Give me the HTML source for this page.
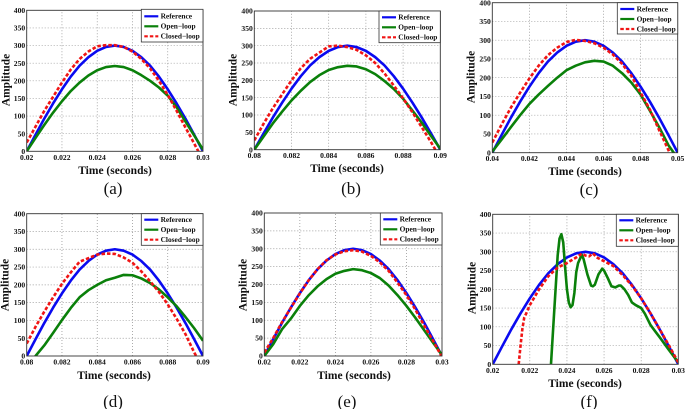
<!DOCTYPE html>
<html>
<head>
<meta charset="utf-8">
<title>Amplitude tracking charts</title>
<style>
html,body{margin:0;padding:0;background:#fff;width:685px;height:409px;overflow:hidden}
svg{display:block}
text{font-family:"Liberation Serif",serif;fill:#111}
.tick{font-size:7.6px;font-weight:bold}
.axis{font-size:11.5px;font-weight:bold}
.leg{font-size:7.4px;font-weight:bold}
.cap{font-size:17px}
</style>
</head>
<body>
<svg id="chart" xmlns="http://www.w3.org/2000/svg" width="685" height="409" viewBox="0 0 685 409"></svg>
<script>
// Shared values
const yTicks = [0, 50, 100, 150, 200, 250, 300, 350, 400];
const legendLabels = ['Reference', 'Open\u2212loop', 'Closed\u2212loop'];
const timeOffsets = [0, .0005, .001, .0015, .002, .0025, .003, .0035, .004, .0045, .005, .0055, .006, .0065, .007, .0075, .008, .0085, .009, .0095, .01];
const referenceValues = [0, 47, 93, 136, 176, 212, 243, 267, 285, 296, 300, 296, 285, 267, 243, 212, 176, 136, 93, 47, 0];

// Panel a
const aXTicks = ['0.02', '0.022', '0.024', '0.026', '0.028', '0.03'];
const aOpen = [0, 38, 75, 110, 142, 171, 195, 215, 230, 239, 242, 239, 230, 216, 200, 181, 158, 125, 85, 45, 5];
const aClosed = [25, 70, 115, 155, 195, 232, 262, 283, 298, 301, 301, 296, 283, 262, 235, 200, 160, 115, 68, 22, -25];
// Panel b
const bXTicks = ['0.08', '0.082', '0.084', '0.086', '0.088', '0.09'];
const bOpen = [0, 38, 76, 110, 142, 170, 195, 215, 230, 238, 242, 240, 232, 218, 198, 175, 147, 113, 78, 40, 3];
const bClosed = [27, 75, 120, 160, 200, 235, 262, 280, 298, 300, 296, 288, 272, 250, 220, 185, 148, 108, 65, 22, -25];
// Panel c
const cXTicks = ['0.04', '0.042', '0.044', '0.046', '0.048', '0.05'];
const cOpen = [3, 35, 68, 100, 130, 155, 178, 200, 220, 232, 241, 245, 243, 232, 212, 187, 155, 112, 68, 20, -15];
const cClosed = [27, 75, 120, 160, 198, 232, 260, 280, 295, 301, 298, 292, 280, 262, 237, 205, 160, 115, 60, 7, -50];
// Panel d
const dXTicks = ['0.08', '0.082', '0.084', '0.086', '0.088', '0.09'];
const dOpen = [-45, 0, 30, 65, 101, 135, 165, 185, 200, 213, 220, 228, 227, 218, 205, 187, 165, 140, 110, 78, 43];
const dClosed = [35, 82, 125, 165, 203, 235, 265, 275, 285, 288, 287, 277, 262, 238, 210, 180, 145, 105, 62, 10, -35];
// Panel e
const eXTicks = ['0.02', '0.022', '0.024', '0.026', '0.028', '0.03'];
const eOpen = [0, 33, 75, 105, 140, 170, 195, 215, 230, 238, 243, 240, 232, 218, 197, 170, 140, 107, 72, 37, 3];
const eClosed = [10, 50, 95, 135, 175, 212, 243, 268, 284, 293, 296, 292, 280, 262, 238, 205, 170, 130, 85, 42, -3];
// Panel f
const fXTicks = ['0.02', '0.022', '0.024', '0.026', '0.028', '0.03'];
const fOpenTimes = [.00314, .0033, .0035, .0036, .0037, .0038, .0039, .004, .0041, .0042, .0043, .0044, .0045, .0046, .0048, .0049, .0051, .0053, .0054, .0055, .0057, .0059, .006, .0062, .0064, .0066, .0068, .0069, .0071, .0073, .0075, .0077, .008, .0082, .0085, .0088, .009, .0095, .01];
const fOpen = [0, 130, 290, 335, 347, 325, 260, 200, 165, 152, 158, 190, 245, 270, 292, 280, 240, 210, 208, 212, 240, 255, 250, 230, 208, 205, 210, 210, 200, 185, 165, 158, 150, 135, 105, 85, 72, 38, 5];
const fClosedTimes = [.0014, .0015, .0016, .0017, .0018, .002, .0025, .003, .0035, .004, .0045, .0048, .005, .0052, .0054, .0056, .006, .0065, .007, .0075, .008, .0085, .009, .0095, .01];
const fClosed = [0, 50, 95, 125, 135, 158, 200, 235, 258, 270, 285, 295, 290, 288, 296, 285, 275, 262, 238, 210, 176, 136, 93, 50, 5];

const panels = [
  {id:'a', x0:26.7, x1:203, y0:151.3, y1:10.3, ticks:aXTicks, open:aOpen, closed:aClosed, xl:[115,170], yl:[6,80], cap:[113,189], leg:[141.3,203,9.3,42,16.3,26.3,36.3]},
  {id:'b', x0:254.3, x1:440.3, y0:149.7, y1:11, ticks:bXTicks, open:bOpen, closed:bClosed, xl:[347,168], yl:[233,80], cap:[351,189], leg:[379,440.3,11,42.7,17.3,27.3,37.3]},
  {id:'c', x0:492.3, x1:677.7, y0:152.7, y1:2.7, ticks:cXTicks, open:cOpen, closed:cClosed, xl:[585,171], yl:[471,77], cap:[589,190], leg:[617.3,677.7,2.7,34,9,19,29]},
  {id:'d', x0:26.7, x1:203, y0:356, y1:213.7, ticks:dXTicks, open:dOpen, closed:dClosed, xl:[114,375], yl:[5,285], cap:[113,402], leg:[141.3,203,213.7,245.3,219.7,229.7,239.7]},
  {id:'e', x0:264.3, x1:442, y0:356, y1:213, ticks:eXTicks, open:eOpen, closed:eClosed, xl:[354,375], yl:[243,285], cap:[347,402], leg:[380.3,442,213,245,219.3,229.3,239.3]},
  {id:'f', x0:492.7, x1:678.3, y0:364.3, y1:214.3, ticks:fXTicks, open:fOpen, closed:fClosed, openT:fOpenTimes, closedT:fClosedTimes, xl:[585,383], yl:[472,288], cap:[589,402], leg:[616.3,678.3,214.3,246.3,220.3,230.3,240.3]}
];

const svg = document.getElementById('chart');
const NS = 'http://www.w3.org/2000/svg';
function mk(parent, tag, attrs, txt) {
  const el = document.createElementNS(NS, tag);
  for (const k in attrs) el.setAttribute(k, attrs[k]);
  if (txt !== undefined) el.textContent = txt;
  parent.appendChild(el);
  return el;
}
const defs = mk(svg, 'defs', {});

panels.forEach(function (p) {
  const sx = function (t) { return p.x0 + (t / 0.01) * (p.x1 - p.x0); };
  const sy = function (v) { return p.y0 - (v / 400) * (p.y0 - p.y1); };
  const clip = mk(defs, 'clipPath', {id: 'clip-' + p.id});
  mk(clip, 'rect', {x: p.x0, y: p.y1, width: p.x1 - p.x0, height: p.y0 - p.y1});

  const g = mk(svg, 'g', {});
  
  

  // Grid and ticks
  p.ticks.forEach(function (label, i) {
    const x = sx(i * 0.002);
    if (i > 0 && i < p.ticks.length - 1) {
      const gl = mk(g, 'line', {x1: x, x2: x, y1: p.y0, y2: p.y1, stroke: '#8a8a8a', 'stroke-width': .7, 'stroke-dasharray': '1 2'});
      
      
    }
    const tl = mk(g, 'text', {x: x, y: p.y0 + 8.5, 'text-anchor': 'middle', class: 'tick'}, label);
    
    
  });
  yTicks.forEach(function (v) {
    const y = sy(v);
    if (v > 0 && v < 400) {
      const gl = mk(g, 'line', {x1: p.x0, x2: p.x1, y1: y, y2: y, stroke: '#8a8a8a', 'stroke-width': .7, 'stroke-dasharray': '1 2'});
      
      
    }
    const tl = mk(g, 'text', {x: p.x0 - 1.5, y: y + 2.6, 'text-anchor': 'end', class: 'tick'}, String(v));
    
    
  });

  // Series
  const plot = mk(g, 'g', {'clip-path': 'url(#clip-' + p.id + ')'});
  
  
  function series(values, times, color, dash, name) {
    const pts = values.map(function (v, i) { return sx(times[i]).toFixed(2) + ',' + sy(v).toFixed(2); }).join(' ');
    const attrs = {points: pts, fill: 'none', stroke: color, 'stroke-width': 2.6, 'stroke-linejoin': 'round'};
    if (dash) attrs['stroke-dasharray'] = dash;
    const line = mk(plot, 'polyline', attrs);
    
    
  }
  series(referenceValues, timeOffsets, '#0a0af0', null, 'reference-line');
  series(p.open, p.openT || timeOffsets, '#0a800a', null, 'open-loop-line');
  series(p.closed, p.closedT || timeOffsets, '#f01414', '3.5 2', 'closed-loop-line');

  // Frame
  const frame = mk(g, 'rect', {x: p.x0, y: p.y1, width: p.x1 - p.x0, height: p.y0 - p.y1, fill: 'none', stroke: '#333', 'stroke-width': .9});
  
  

  // Axis labels
  const xt = mk(g, 'text', {x: p.xl[0], y: p.xl[1] + 4, 'text-anchor': 'middle', class: 'axis'}, 'Time (seconds)');
  
  
  const yt = mk(g, 'text', {x: 0, y: 0, 'text-anchor': 'middle', class: 'axis', transform: 'translate(' + (p.yl[0] + 3.5) + ',' + p.yl[1] + ') rotate(-90)'}, 'Amplitude');
  
  
  const cap = mk(g, 'text', {x: p.cap[0], y: p.cap[1] + 5, 'text-anchor': 'middle', class: 'cap'}, '(' + p.id + ')');
  
  

  // Legend
  const L = p.leg;
  const lg = mk(g, 'g', {});
  
  
  mk(lg, 'rect', {x: L[0], y: L[2], width: L[1] - L[0], height: L[3] - L[2], fill: '#fff', stroke: '#333', 'stroke-width': .8});
  const colors = ['#0a0af0', '#0a800a', '#f01414'];
  legendLabels.forEach(function (label, i) {
    const y = L[4 + i];
    const a = {x1: L[0] + 3, x2: L[0] + 17, y1: y, y2: y, stroke: colors[i], 'stroke-width': 2.2};
    if (i === 2) a['stroke-dasharray'] = '3.5 2';
    const sw = mk(lg, 'line', a);
    
    
    const t = mk(lg, 'text', {x: L[0] + 19.3, y: y + 2.4, class: 'leg'}, label);
    
    
  });
});
</script>
</body>
</html>
